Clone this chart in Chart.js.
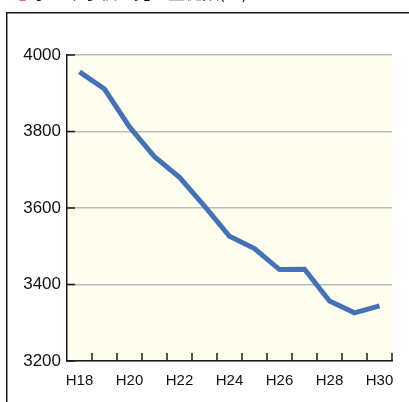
<!DOCTYPE html>
<html>
<head>
<meta charset="utf-8">
<script src="https://cdn.jsdelivr.net/npm/chart.js@4"></script>
<style>
  body { margin: 0; background: #fff; }
  #c { position: absolute; left: 0; top: 0; }
</style>
</head>
<body>
<canvas id="c" width="409" height="402"></canvas>
<script>
const years = ['H18','H19','H20','H21','H22','H23','H24','H25','H26','H27','H28','H29','H30'];
const values = [3956, 3911, 3812, 3734, 3680, 3605, 3526, 3494, 3439, 3440, 3357, 3326, 3344];
const yTicks = [3200, 3400, 3600, 3800, 4000];
const title = '小・中学校の児童生徒数(人)';

// cream plot area, outer frame and cut-off heading
const backdrop = {
  id: 'backdrop',
  beforeDraw(chart) {
    const {ctx, chartArea: a} = chart;
    ctx.save();
    ctx.fillStyle = '#fffdee';
    ctx.fillRect(a.left, a.top, a.right - a.left, a.bottom - a.top);
    ctx.strokeStyle = '#1a1a1a';
    ctx.lineWidth = 1.5;
    ctx.beginPath();
    ctx.moveTo(6.75, 402);
    ctx.lineTo(6.75, 12.75);
    ctx.lineTo(409, 12.75);
    ctx.stroke();
    ctx.textBaseline = 'bottom';
    ctx.font = '17px "Noto Sans CJK JP"';
    ctx.fillStyle = '#e8607f';
    ctx.fillText('❸', 14, 1);
    ctx.fillStyle = '#111';
    ctx.fillText(title, 32, 1);
    ctx.restore();
  }
};

// tick marks point into the plot
const innerTicks = {
  id: 'innerTicks',
  afterDraw(chart) {
    const {ctx, chartArea: a, scales: {x, y}} = chart;
    ctx.save();
    ctx.strokeStyle = '#1a1a1a';
    ctx.lineWidth = 1.5;
    ctx.beginPath();
    yTicks.forEach(v => {
      const py = y.getPixelForValue(v);
      ctx.moveTo(a.left, py);
      ctx.lineTo(a.left + 8, py);
    });
    const step = (a.right - a.left) / years.length;
    for (let i = 1; i <= years.length; i++) {
      const px = a.left + i * step;
      ctx.moveTo(px, a.bottom);
      ctx.lineTo(px, a.bottom - 8);
    }
    ctx.stroke();
    ctx.restore();
  }
};

new Chart(document.getElementById('c'), {
  type: 'line',
  data: {
    labels: years,
    datasets: [{
      data: values,
      borderColor: '#4472b9',
      borderWidth: 5,
      pointRadius: 0,
      tension: 0
    }]
  },
  options: {
    responsive: false,
    animation: false,
    layout: { padding: { top: 55, right: 17, left: 0, bottom: 0 } },
    plugins: { legend: { display: false }, tooltip: { enabled: false } },
    scales: {
      x: {
        offset: true,
        grid: { drawOnChartArea: false, drawTicks: false, color: 'rgba(0,0,0,0)' },
        border: { display: true, color: '#1a1a1a', width: 1.5 },
        ticks: {
          autoSkip: false,
          maxRotation: 0,
          padding: 11,
          color: '#111',
          font: { family: 'Liberation Sans', size: 15 },
          callback: (v, i) => i % 2 === 0 ? years[i] : ''
        },
        afterFit: s => { s.height = 41; }
      },
      y: {
        min: 3200,
        max: 4000,
        grid: { color: '#bbbbbb', lineWidth: 1.5, drawTicks: false },
        border: { display: true, color: '#1a1a1a', width: 1.5 },
        ticks: {
          stepSize: 200,
          padding: 6,
          color: '#111',
          font: { family: 'Liberation Sans', size: 17 },
          callback: v => String(v)
        },
        afterFit: s => { s.width = 67; }
      }
    }
  },
  plugins: [backdrop, innerTicks]
});
</script>
</body>
</html>
